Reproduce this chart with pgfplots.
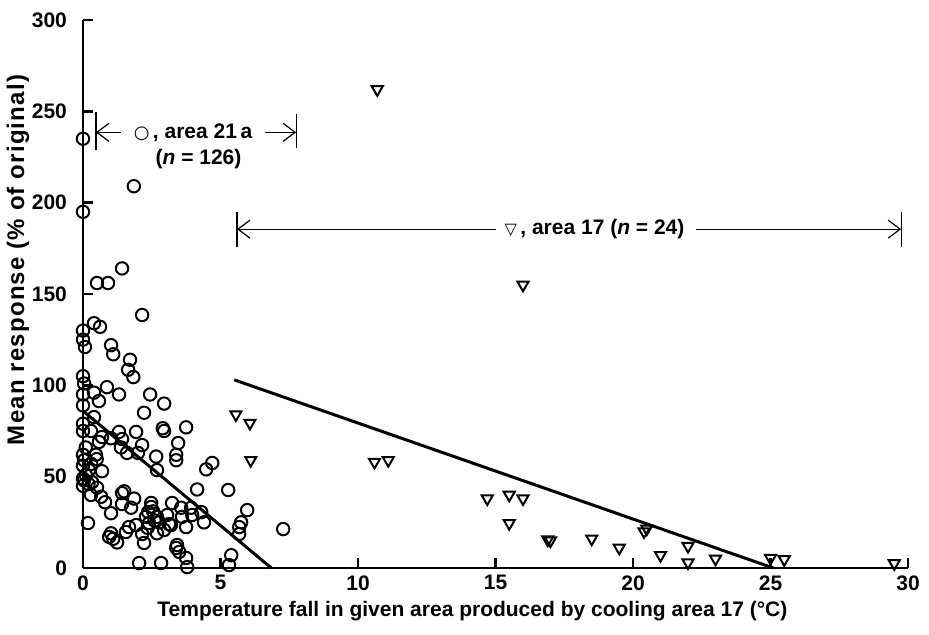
\documentclass[border=0pt]{standalone}
\usepackage{fontspec}
\setmainfont{Liberation Sans}
\newfontfamily\symfont{DejaVu Sans}
\newfontfamily\ylabfont[LetterSpace=5]{Liberation Sans}
\usepackage{pgfplots}
\pgfplotsset{compat=1.18}
\usetikzlibrary{arrows.meta}
\newcommand{\lab}{\fontsize{10.5}{12}\selectfont\bfseries}
\begin{document}
\begin{tikzpicture}
\begin{axis}[
  scale only axis, width=412.5pt, height=274pt,
  xmin=0, xmax=30, ymin=0, ymax=300,
  axis x line*=bottom, axis y line*=left,
  axis line style={line width=1.4pt,-},
  xtick={0,5,...,30}, ytick={0,50,...,300},
  tick align=inside, major tick length=5pt,
  tick style={line width=1.2pt,black},
  /pgf/number format/assume math mode=true,
  tick label style={font=\lab},
  xticklabel style={yshift=-2.5pt, inner sep=1pt},
  yticklabel style={xshift=-4.5pt},
  xlabel={Temperature fall in given area produced by cooling area 17 (°C)},
  ylabel={Mean response (\% of original)},
  xlabel style={font=\lab, inner sep=1pt, at={([yshift=-21.5pt]axis description cs:0.472,0)}, anchor=center},
  ylabel style={font=\ylabfont\fontsize{12}{14}\selectfont\bfseries, at={([xshift=-32.5pt]axis description cs:0,0.562)}, anchor=center, rotate=0},
  clip=false,
]
% area 21a (circles)
\addplot[only marks, mark=o, mark size=3.1pt, mark options={line width=1pt}] coordinates {
(0,235)(0,195)(1.85,209)
(1.42,164)(0.51,156)(0.91,156)(2.15,138.5)
(0.4,134)(0.62,132)(0,130)(0,125)(0.07,121)
(1.02,122)(1.1,117)(1.71,114)(1.64,108.5)(1.83,104.5)(0,105)
(0.04,101)(0.87,99)(1.31,95)(2.44,95)(0,95)(0.4,96)(0.58,91.4)(2.95,90)(0,89)(2.22,85)
(0.4,82.6)(0,79)(2.9,76.5)(2.95,75)(3.75,77)(0.29,75)(0,75)(1.31,74.5)(1.93,74.5)(0.69,71.7)
(0.58,69)(1.02,71)(1.42,70.6)(2.15,67.3)(3.46,68.4)(1.38,66)(1.6,63)(2.0,63)(3.39,62)(3.39,59)
(2.66,61)(0,62)(0.04,59)(0.47,62)(0.5,59.6)(4.7,57.5)(4.48,54)(2.69,53.6)(0,56)(0.22,53.6)
(0.69,53)(0,49)(0.04,48)(0,45)(0.33,47)(0.51,44)(0.29,40)(0.66,39)(4.15,43)(5.28,42.7)
(1.42,41)(1.86,38)(1.42,35)(1.75,33)
(2.48,35.6)(2.48,33.4)(2.37,30.6)(2.29,28)(2.4,24.6)(2.69,28)(2.77,25)(3.06,29)(3.13,24)(3.24,35.6)
(3.57,33)(3.93,33)(3.97,29)(4.3,30.6)(4.4,25)
(1.02,30)(0.18,24.6)(1.67,22.4)(1.93,23.5)(1.56,19.7)(2.15,18.6)(1.02,19)(0.95,17)(1.24,14)(2.22,13.7)
(2.69,19)(2.95,20.8)(3.2,23.5)(3.75,22.4)(3.42,12.6)(3.39,11)(3.5,8.8)(3.75,5.5)(3.79,0.5)(2.04,2.7)
(2.84,2.7)(5.39,7)(5.31,1.6)(5.68,22.4)(5.75,25)(5.68,18.6)(5.97,31.7)(7.28,21.3)
(0.1,51)(0.2,46)(0.1,66)(0.3,57)(2.55,31)(2.6,26)(2.35,22)(1.1,16)(1.5,42)(3.6,28)(0.8,36)
};
% area 17 (inverted triangles)
\addplot[only marks, mark=triangle, mark size=3.2pt, mark options={rotate=180, line width=1pt}] coordinates {
(10.7,262)(16,155)(5.56,84)(6.07,79.4)(6.1,59)(10.6,58)(11.1,59)
(14.7,38)(15.5,40)(16,38)(15.5,24.5)(16.9,15.5)(17,15)(18.5,16)(19.5,11)
(20.4,20)(20.5,21.5)(21,7)(22,12)(22,3)(23,5)(25,5.5)(25.5,4.7)(29.5,2.5)
};
% regression lines
\addplot[line width=1.5pt] coordinates {(0,86) (6.85,0)};
\addplot[line width=1.5pt] coordinates {(5.5,103) (25.1,0)};
% annotations
\draw[line width=0.6pt] (axis cs:0.47,229) -- (axis cs:0.47,249.5);
\draw[line width=0.6pt] (axis cs:7.75,230) -- (axis cs:7.75,248.5);
\draw[line width=0.6pt,{Straight Barb[length=6pt,width=9pt]}-] (axis cs:0.47,238.5) -- (axis cs:1.4,238.5);
\draw[line width=0.6pt,-{Straight Barb[length=6pt,width=9pt]}] (axis cs:6.6,238.5) -- (axis cs:7.75,238.5);
\node[font=\lab] at (axis cs:4.0,238.5) {{\symfont\fontsize{9}{10}\selectfont ○}\,, area 21\,a};
\node[font=\lab] at (axis cs:4.2,224) {(\textit{n} = 126)};
\draw[line width=0.6pt] (axis cs:5.6,176) -- (axis cs:5.6,195);
\draw[line width=0.6pt] (axis cs:29.75,176) -- (axis cs:29.75,195);
\draw[line width=0.6pt,{Straight Barb[length=6pt,width=9pt]}-] (axis cs:5.6,185.5) -- (axis cs:15.0,185.5);
\draw[line width=0.6pt,-{Straight Barb[length=6pt,width=9pt]}] (axis cs:22.3,185.5) -- (axis cs:29.75,185.5);
\node[font=\lab] at (axis cs:18.6,185.5) {{\symfont\fontsize{8}{10}\selectfont ▽}\,, area 17 (\textit{n} = 24)};
\end{axis}
\pgfresetboundingbox
\useasboundingbox (-41.5pt,-33.5pt) rectangle (423pt,284pt);
\end{tikzpicture}
\end{document}
